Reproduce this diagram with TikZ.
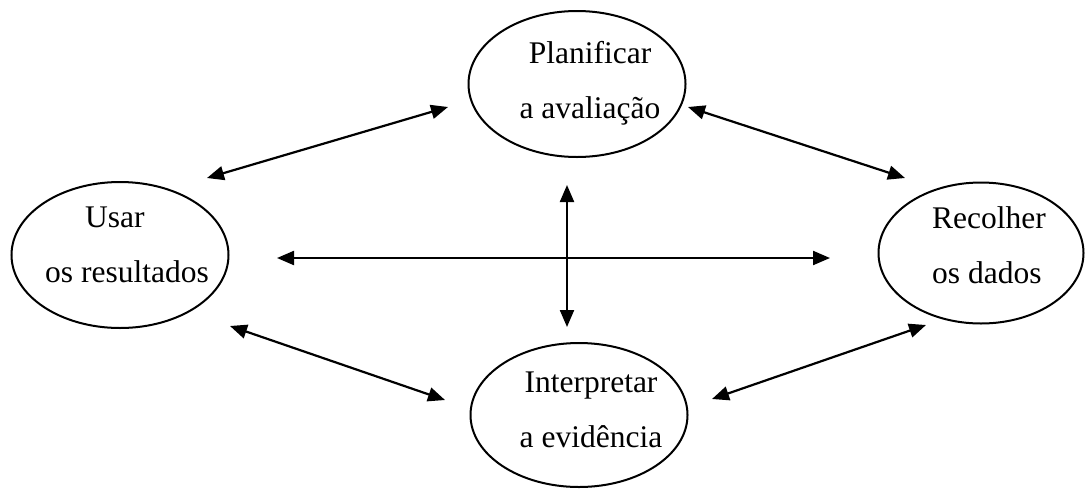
\documentclass[tikz,border=0pt]{standalone}
\usepackage{fontspec}
\setmainfont{Liberation Serif}
\usetikzlibrary{arrows.meta, shapes.geometric}

\begin{document}
\begin{tikzpicture}[x=1pt, y=-1pt,
  elipse/.style={ellipse, draw, line width=2pt, inner sep=0pt},
  rotulo/.style={font=\fontsize{31.5}{55}\selectfont, inner sep=0pt},
  seta/.style={{Triangle[length=17pt,width=14pt]}-{Triangle[length=17pt,width=14pt]}, line width=2.2pt}]
\useasboundingbox (0,0) rectangle (1086,488);
\node[elipse, minimum width=217pt, minimum height=146pt] (plan) at (577,84) {};
\node[elipse, minimum width=217pt, minimum height=146pt] (usar) at (120,255) {};
\node[elipse, minimum width=205pt, minimum height=141pt] (recolher) at (981,253) {};
\node[elipse, minimum width=217pt, minimum height=144pt] (interp) at (579,415) {};
\node[rotulo, align=center] (plantxt) at (590,83) {Planificar\\a avaliação};
\node[rotulo, align=left] (usartxt) at (127,245) {\hspace*{40pt}Usar\\os resultados};
\node[rotulo, align=left] (recolhertxt) at (989,245) {Recolher\\os dados};
\node[rotulo, align=center] (interptxt) at (591,410) {Interpretar\\a evidência};
\coordinate (ul1) at (207,178);
\coordinate (ul2) at (448,107);
\coordinate (ur1) at (688,107);
\coordinate (ur2) at (905,178);
\coordinate (h1) at (277,258);
\coordinate (h2) at (830,258);
\coordinate (v1) at (567,185);
\coordinate (v2) at (567,327);
\coordinate (ll1) at (230,326);
\coordinate (ll2) at (445,400);
\coordinate (lr1) at (712,399);
\coordinate (lr2) at (926,325);
\foreach \a/\b in {ul1/ul2, ur1/ur2, h1/h2, v1/v2, ll1/ll2, lr1/lr2}
  \draw[seta] (\a) -- (\b);
\end{tikzpicture}
\end{document}
